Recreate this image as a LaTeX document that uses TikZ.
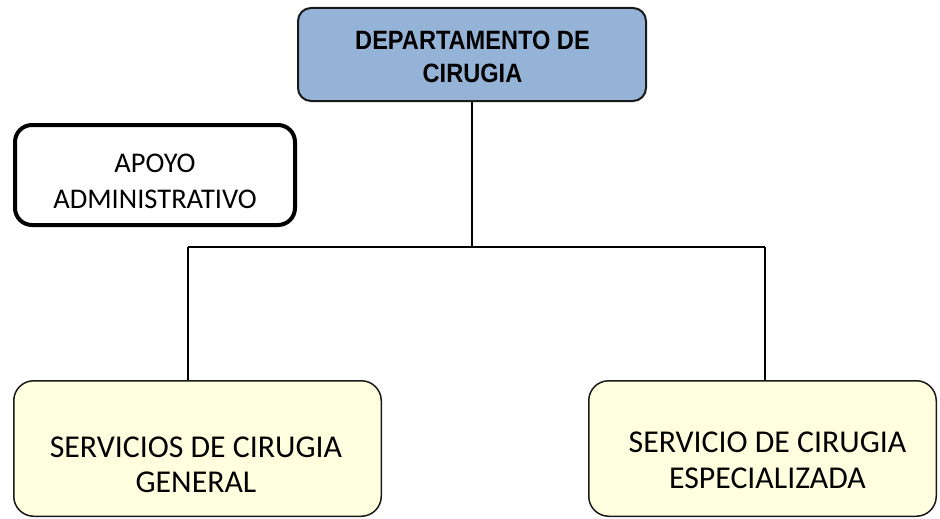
\documentclass[tikz,border=0pt]{standalone}
\usepackage{fontspec}
\setmainfont{Carlito}
\newfontfamily\headfont[FakeStretch=0.89]{Liberation Sans}
\definecolor{topblue}{HTML}{95B3D7}
\definecolor{paleyellow}{HTML}{FFFFE0}
\definecolor{edge}{HTML}{1A1A1A}
\begin{document}
\begin{tikzpicture}[x=1pt,y=-1pt,
  box/.style={draw=edge, rounded corners=13pt, inner sep=0pt},
  txt/.style={inner sep=0pt, anchor=base},
  headtxt/.style={txt, font=\headfont\bfseries\fontsize{26.5}{30}\selectfont},
  apoyotxt/.style={txt, font=\fontsize{28.5}{34}\selectfont},
  servtxt/.style={txt, font=\fontsize{31.8}{38}\selectfont},
  conn/.style={draw=black, line width=1.5pt}]
\useasboundingbox (0,0) rectangle (940,519);
% boxes
\node[box, fill=topblue, line width=2pt, minimum width=348pt, minimum height=93pt] (top) at (472,54.5) {};
\node[box, draw=black, line width=4pt, rounded corners=17pt, minimum width=280pt, minimum height=100pt] (apoyo) at (155,175) {};
\node[box, fill=paleyellow, line width=1.5pt, rounded corners=20pt, minimum width=367.5pt, minimum height=135.5pt] (gen) at (197.5,448.5) {};
\node[box, fill=paleyellow, line width=1.5pt, rounded corners=20pt, minimum width=347.5pt, minimum height=135.5pt] (esp) at (762.5,448.5) {};
% texts
\node[headtxt] (t1) at (472.5,50) {DEPARTAMENTO DE};
\node[headtxt] (t2) at (472.5,83) {CIRUGIA};
\node[apoyotxt] (a1) at (155,172) {APOYO};
\node[apoyotxt] (a2) at (155,208) {ADMINISTRATIVO};
\node[servtxt] (g1) at (196,457) {SERVICIOS DE CIRUGIA};
\node[servtxt] (g2) at (196,492) {GENERAL};
\node[servtxt] (e1) at (767.5,452) {SERVICIO DE CIRUGIA};
\node[servtxt] (e2) at (767.5,488) {ESPECIALIZADA};
% connectors
\coordinate (j) at (472,247);
\coordinate (jl) at (188,247);
\coordinate (jr) at (765,247);
\draw[conn] (top.south) -- (j);
\draw[conn] (jl) -- (jr);
\draw[conn] (jl) -- (jl |- gen.north);
\draw[conn] (jr) -- (jr |- esp.north);
\end{tikzpicture}
\end{document}
